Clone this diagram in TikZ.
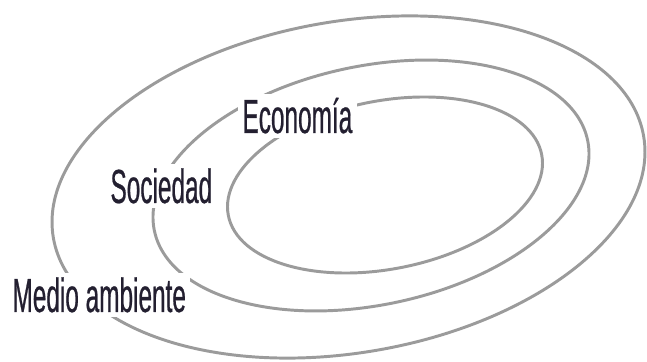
\documentclass[tikz,border=0pt]{standalone}
\usepackage{fontspec}
\setmainfont{Liberation Sans}[FakeStretch=0.51,FakeBold=0.5]
\definecolor{ringgray}{HTML}{9B9B9B}
\definecolor{labelink}{HTML}{231F30}
\tikzset{
  ring/.style={draw=ringgray, line width=2.1pt},
  ringlabel/.style={fill=white, inner sep=3pt, anchor=base west, text=labelink,
    font=\fontsize{34}{38}\selectfont}
}
\begin{document}
\begin{tikzpicture}[x=0.025cm, y=0.025cm]
    \useasboundingbox (0,0) rectangle (647,362);

    % Three nested rings
    \draw[ring, rotate around={9.8:(348.5,175)}] (348.5,175) ellipse [x radius=299.5, y radius=165.7];
    \draw[ring, rotate around={11.8:(371,176.5)}] (371,176.5) ellipse [x radius=221.3, y radius=119.5];
    \draw[ring, rotate around={11:(385,177)}] (385,177) ellipse [x radius=159.6, y radius=84.1];

    % Labels cut the rings
    \node[ringlabel] (medio) at (8,50) {Medio ambiente};
    \node[ringlabel] (sociedad) at (106,159) {Sociedad};
    \node[ringlabel] (economia) at (238,229) {Economía};
\end{tikzpicture}
\end{document}
